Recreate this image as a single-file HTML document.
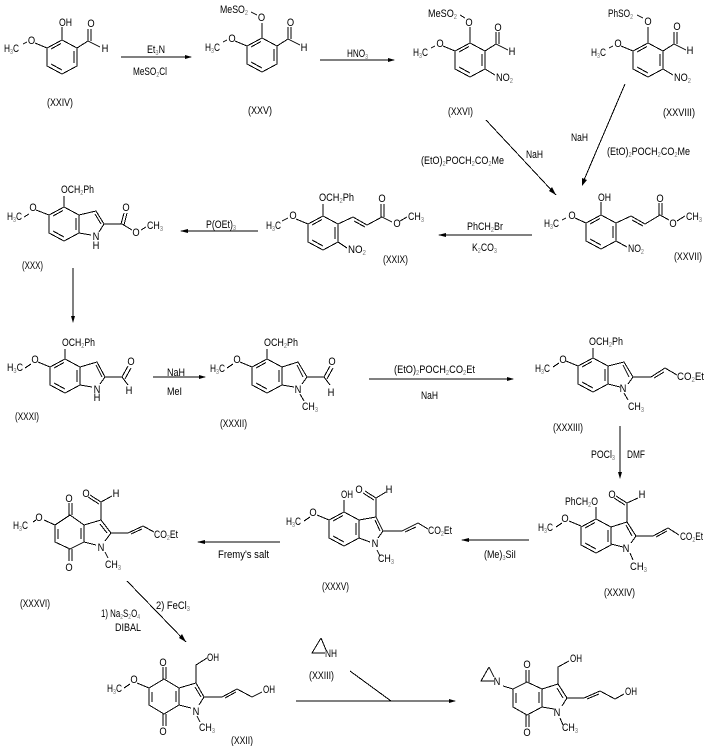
<!DOCTYPE html>
<html><head><meta charset="utf-8"><style>
html,body{margin:0;padding:0;background:#fff}
svg{display:block}
text{font-family:"Liberation Sans",sans-serif;font-size:11px;fill:#000}
.m{text-anchor:middle;transform-box:fill-box;transform-origin:center;transform:scaleX(.85)}
.s{font-size:7px;fill:#777}
.b{fill:none;stroke:#000;stroke-width:1;shape-rendering:crispEdges}
.a{fill:#000;stroke:none}
</style></head><body>
<svg width="710" height="746" viewBox="0 0 710 746" xmlns="http://www.w3.org/2000/svg">
<defs><path id="r" d="M0 0L15 8V26L0 34L-15 26V8ZM12 11V23M-11 24L0 30M-11 9L-1 3.5"/></defs>

<!-- XXIV -->
<g class="b"><use href="#r" x="62" y="40"/><path d="M62 40V27M35 43L47 48M23 44L27 42M77 48L88 41M88 41V29M91 41V29M88 41L100 47"/></g>
<text x="59" y="26" textLength="13" lengthAdjust="spacingAndGlyphs">OH</text><text x="31.500" y="44" class="m">O</text>
<text x="4" y="52" textLength="15" lengthAdjust="spacingAndGlyphs">H<tspan class="s" dy="2">3</tspan><tspan dy="-2">C</tspan></text>
<text x="91" y="27" class="m">O</text><text x="105" y="52" class="m">H</text>
<text x="47" y="106" textLength="26" lengthAdjust="spacingAndGlyphs">(XXIV)</text>

<!-- arrow 1 -->
<path class="b" d="M121 57H191"/><path class="a" d="M192 57L185 55V59Z"/>
<text x="147" y="53" textLength="18" lengthAdjust="spacingAndGlyphs">Et<tspan class="s" dy="2">3</tspan><tspan dy="-2">N</tspan></text>
<text x="133" y="75" textLength="34" lengthAdjust="spacingAndGlyphs">MeSO<tspan class="s" dy="2">2</tspan><tspan dy="-2">Cl</tspan></text>

<!-- XXV -->
<g class="b"><use href="#r" x="262" y="38"/><path d="M262 38V23M235 41L247 46M223 42L227 40M277 46L288 39M288 39V27M291 39V27M288 39L300 45M251 12L257 15"/></g>
<text x="220" y="13" textLength="28" lengthAdjust="spacingAndGlyphs">MeSO<tspan class="s" dy="2">2</tspan></text><text x="261.500" y="21" class="m">O</text>
<text x="232" y="42" class="m">O</text>
<text x="205" y="51" textLength="15" lengthAdjust="spacingAndGlyphs">H<tspan class="s" dy="2">3</tspan><tspan dy="-2">C</tspan></text>
<text x="290.500" y="26" class="m">O</text><text x="304" y="51" class="m">H</text>
<text x="248" y="114" textLength="24" lengthAdjust="spacingAndGlyphs">(XXV)</text>

<!-- arrow 2 -->
<path class="b" d="M320 60H394"/><path class="a" d="M395 60L388 58V62Z"/>
<text x="347" y="57" textLength="21" lengthAdjust="spacingAndGlyphs">HNO<tspan class="s" dy="2">3</tspan></text>

<!-- XXVI -->
<g class="b"><use href="#r" x="470" y="43"/><path d="M470 43V27M443 46L455 51M431 48L435 46M485 51L496 44M496 44V32M499 44V32M496 44L508 50M485 69L495 75M460 15L465 18"/></g>
<text x="428" y="17" textLength="29" lengthAdjust="spacingAndGlyphs">MeSO<tspan class="s" dy="2">2</tspan></text><text x="469" y="26" class="m">O</text>
<text x="440" y="47" class="m">O</text>
<text x="413" y="56" textLength="15" lengthAdjust="spacingAndGlyphs">H<tspan class="s" dy="2">3</tspan><tspan dy="-2">C</tspan></text>
<text x="498" y="31" class="m">O</text><text x="512" y="55" class="m">H</text>
<text x="496" y="81" textLength="17" lengthAdjust="spacingAndGlyphs">NO<tspan class="s" dy="2">2</tspan></text>
<text x="448" y="115" textLength="25" lengthAdjust="spacingAndGlyphs">(XXVI)</text>

<!-- XXVIII -->
<g class="b"><use href="#r" x="648" y="43"/><path d="M648 43V27M621 46L633 51M609 48L613 46M663 51L674 44M674 44V32M677 44V32M674 44L686 50M663 69L673 75M637 15L643 18"/></g>
<text x="608" y="17" textLength="25" lengthAdjust="spacingAndGlyphs">PhSO<tspan class="s" dy="2">2</tspan></text><text x="648" y="25" class="m">O</text>
<text x="618" y="47" class="m">O</text>
<text x="591" y="56" textLength="15" lengthAdjust="spacingAndGlyphs">H<tspan class="s" dy="2">3</tspan><tspan dy="-2">C</tspan></text>
<text x="677" y="30" class="m">O</text><text x="690" y="54" class="m">H</text>
<text x="674" y="81" textLength="17" lengthAdjust="spacingAndGlyphs">NO<tspan class="s" dy="2">2</tspan></text>
<text x="663" y="116" textLength="32" lengthAdjust="spacingAndGlyphs">(XXVIII)</text>

<!-- arrows to XXVII -->
<path class="b" d="M486 120L556 195"/><path class="a" d="M556 195L549 191L552 187Z"/>
<text x="526" y="158" textLength="17" lengthAdjust="spacingAndGlyphs">NaH</text>
<text x="421" y="164" textLength="83" lengthAdjust="spacingAndGlyphs">(EtO)<tspan class="s" dy="2">2</tspan><tspan dy="-2">POCH</tspan><tspan class="s" dy="2">2</tspan><tspan dy="-2">CO</tspan><tspan class="s" dy="2">2</tspan><tspan dy="-2">Me</tspan></text>
<path class="b" d="M625 84L584 180"/><path class="a" d="M582 186L582 178L587 180Z"/>
<text x="571" y="141" textLength="17" lengthAdjust="spacingAndGlyphs">NaH</text>
<text x="607" y="155" textLength="83" lengthAdjust="spacingAndGlyphs">(EtO)<tspan class="s" dy="2">2</tspan><tspan dy="-2">POCH</tspan><tspan class="s" dy="2">2</tspan><tspan dy="-2">CO</tspan><tspan class="s" dy="2">2</tspan><tspan dy="-2">Me</tspan></text>

<!-- XXVII -->
<g class="b"><use href="#r" x="601" y="215"/><path d="M601 215V202M575 218L586 223M562 220L566 218M616 223L631 216L645 224L660 215M632 220L643 226M659 215V203M662 215V203M660 215L669 220M677 221L685 216M616 241L627 247"/></g>
<text x="598" y="201" textLength="13" lengthAdjust="spacingAndGlyphs">OH</text><text x="572" y="219" class="m">O</text>
<text x="544" y="227" textLength="15" lengthAdjust="spacingAndGlyphs">H<tspan class="s" dy="2">3</tspan><tspan dy="-2">C</tspan></text>
<text x="660" y="202" class="m">O</text><text x="673" y="227" class="m">O</text>
<text x="686" y="220" textLength="16" lengthAdjust="spacingAndGlyphs">CH<tspan class="s" dy="2">3</tspan></text>
<text x="628" y="252" textLength="16" lengthAdjust="spacingAndGlyphs">NO<tspan class="s" dy="2">2</tspan></text>
<text x="674" y="260" textLength="28" lengthAdjust="spacingAndGlyphs">(XXVII)</text>

<!-- arrow PhCH2Br -->
<path class="b" d="M532 235H439"/><path class="a" d="M438 235L446 233V237Z"/>
<text x="467" y="230" textLength="36" lengthAdjust="spacingAndGlyphs">PhCH<tspan class="s" dy="2">2</tspan><tspan dy="-2">Br</tspan></text>
<text x="472" y="251" textLength="25" lengthAdjust="spacingAndGlyphs">K<tspan class="s" dy="2">2</tspan><tspan dy="-2">CO</tspan><tspan class="s" dy="2">3</tspan></text>

<!-- XXIX -->
<g class="b"><use href="#r" x="323" y="216"/><path d="M323 216V204M296 219L308 224M282 221L288 218M338 224L353 217L367 225L382 217M354 221L365 227M381 217V204M384 217V204M382 217L392 222M400 221L407 217M338 242L347 248"/></g>
<text x="319" y="201" textLength="35" lengthAdjust="spacingAndGlyphs">OCH<tspan class="s" dy="2">2</tspan><tspan dy="-2">Ph</tspan></text>
<text x="293" y="219" class="m">O</text>
<text x="266" y="229" textLength="15" lengthAdjust="spacingAndGlyphs">H<tspan class="s" dy="2">3</tspan><tspan dy="-2">C</tspan></text>
<text x="382" y="202" class="m">O</text><text x="397" y="227" class="m">O</text>
<text x="408" y="220" textLength="16" lengthAdjust="spacingAndGlyphs">CH<tspan class="s" dy="2">3</tspan></text>
<text x="348" y="253" textLength="18" lengthAdjust="spacingAndGlyphs">NO<tspan class="s" dy="2">2</tspan></text>
<text x="383" y="263" textLength="25" lengthAdjust="spacingAndGlyphs">(XXIX)</text>

<!-- arrow P(OEt)3 -->
<path class="b" d="M258 231H181"/><path class="a" d="M180 231L188 229V233Z"/>
<text x="206" y="228" textLength="30" lengthAdjust="spacingAndGlyphs">P(OEt)<tspan class="s" dy="2">3</tspan></text>

<!-- XXX -->
<g class="b"><use href="#r" x="64" y="207"/><path d="M64 207V196M36 210L49 215M24 217L29 214M79 215L96 211L104 224L99 232M91 235L79 233M95 214L101 224M104 224H122M121 224L124 213M124 225L127 213M122 224L132 230M141 230L146 227"/></g>
<text x="61" y="193" textLength="33" lengthAdjust="spacingAndGlyphs">OCH<tspan class="s" dy="2">2</tspan><tspan dy="-2">Ph</tspan></text>
<text x="33" y="211" class="m">O</text>
<text x="7" y="220" textLength="15" lengthAdjust="spacingAndGlyphs">H<tspan class="s" dy="2">3</tspan><tspan dy="-2">C</tspan></text>
<text x="96" y="240" class="m">N</text><text x="96" y="249" class="m">H</text>
<text x="126" y="211" class="m">O</text><text x="136" y="236" class="m">O</text>
<text x="147" y="229" textLength="16" lengthAdjust="spacingAndGlyphs">CH<tspan class="s" dy="2">3</tspan></text>
<text x="22" y="269" textLength="21" lengthAdjust="spacingAndGlyphs">(XXX)</text>

<path class="b" d="M73 268V321"/><path class="a" d="M73 323L71 316H75Z"/>

<!-- XXXI -->
<g class="b"><use href="#r" x="65" y="359"/><path d="M65 359V349M38 362L50 367M25 368L31 364M80 367L97 362L105 377L100 384M92 387L80 385M96 365L102 377M105 377H122M122 377L128 366M125 379L131 368M122 377L128 385"/></g>
<text x="62" y="346" textLength="33" lengthAdjust="spacingAndGlyphs">OCH<tspan class="s" dy="2">2</tspan><tspan dy="-2">Ph</tspan></text>
<text x="35" y="363" class="m">O</text>
<text x="7" y="371" textLength="16" lengthAdjust="spacingAndGlyphs">H<tspan class="s" dy="2">3</tspan><tspan dy="-2">C</tspan></text>
<text x="97" y="393" class="m">N</text><text x="97" y="401" class="m">H</text>
<text x="131" y="365" class="m">O</text><text x="129" y="394" class="m">H</text>
<text x="15" y="420" textLength="24" lengthAdjust="spacingAndGlyphs">(XXXI)</text>

<!-- arrow NaH/MeI -->
<path class="b" d="M153 377H205"/><path class="a" d="M206 377L199 375V379Z"/>
<text x="167" y="376" textLength="18" lengthAdjust="spacingAndGlyphs">NaH</text>
<text x="167" y="395" textLength="15" lengthAdjust="spacingAndGlyphs">MeI</text>

<!-- XXXII -->
<g class="b"><use href="#r" x="267" y="359"/><path d="M267 359V349M240 362L252 367M227 368L233 364M282 367L298 362L307 377L302 384M294 387L282 385M297 365L303 377M307 377H324M324 377L330 366M327 379L333 368M324 377L330 385M300 394L304 401"/></g>
<text x="264" y="346" textLength="34" lengthAdjust="spacingAndGlyphs">OCH<tspan class="s" dy="2">2</tspan><tspan dy="-2">Ph</tspan></text>
<text x="237" y="363" class="m">O</text>
<text x="210" y="372" textLength="15" lengthAdjust="spacingAndGlyphs">H<tspan class="s" dy="2">3</tspan><tspan dy="-2">C</tspan></text>
<text x="298" y="393" class="m">N</text>
<text x="302" y="410" textLength="16" lengthAdjust="spacingAndGlyphs">CH<tspan class="s" dy="2">3</tspan></text>
<text x="332" y="365" class="m">O</text><text x="331" y="396" class="m">H</text>
<text x="220" y="427" textLength="27" lengthAdjust="spacingAndGlyphs">(XXXII)</text>

<!-- arrow to XXXIII -->
<path class="b" d="M369 379H513"/><path class="a" d="M514 379L507 377V381Z"/>
<text x="394" y="373" textLength="81" lengthAdjust="spacingAndGlyphs">(EtO)<tspan class="s" dy="2">2</tspan><tspan dy="-2">POCH</tspan><tspan class="s" dy="2">2</tspan><tspan dy="-2">CO</tspan><tspan class="s" dy="2">2</tspan><tspan dy="-2">Et</tspan></text>
<text x="421" y="399" textLength="17" lengthAdjust="spacingAndGlyphs">NaH</text>

<!-- XXXIII -->
<g class="b"><use href="#r" x="593" y="358"/><path d="M593 358V348M566 361L578 366M553 367L559 363M608 366L624 362L633 377L628 384M620 387L608 384M623 365L629 377M633 377H651L665 368L677 375M654 378L664 372M624 393L628 400"/></g>
<text x="589" y="345" textLength="34" lengthAdjust="spacingAndGlyphs">OCH<tspan class="s" dy="2">2</tspan><tspan dy="-2">Ph</tspan></text>
<text x="563" y="363" class="m">O</text>
<text x="535" y="372" textLength="15" lengthAdjust="spacingAndGlyphs">H<tspan class="s" dy="2">3</tspan><tspan dy="-2">C</tspan></text>
<text x="623" y="392" class="m">N</text>
<text x="628" y="410" textLength="16" lengthAdjust="spacingAndGlyphs">CH<tspan class="s" dy="2">3</tspan></text>
<text x="677" y="380" textLength="27" lengthAdjust="spacingAndGlyphs">CO<tspan class="s" dy="2">2</tspan><tspan dy="-2">Et</tspan></text>
<text x="553" y="431" textLength="30" lengthAdjust="spacingAndGlyphs">(XXXIII)</text>

<!-- arrow POCl3 -->
<path class="b" d="M620 426V477"/><path class="a" d="M620 479L618 472H622Z"/>
<text x="591" y="458" textLength="24" lengthAdjust="spacingAndGlyphs">POCl<tspan class="s" dy="2">3</tspan></text>
<text x="627" y="458" textLength="18" lengthAdjust="spacingAndGlyphs">DMF</text>

<!-- XXXIV -->
<g class="b"><use href="#r" x="596" y="519"/><path d="M596 519V507M569 521L581 526M556 527L562 523M611 527L627 522L636 536L631 543M623 547L611 544M626 525L632 536M627 522V503M627 503L616 496M625 505L614 498M627 503L638 498M636 536H653L668 528L679 535M656 537L667 531M630 553L633 560"/></g>
<text x="565" y="505" textLength="33" lengthAdjust="spacingAndGlyphs">PhCH<tspan class="s" dy="2">2</tspan><tspan dy="-2">O</tspan></text>
<text x="565" y="522" class="m">O</text>
<text x="538" y="531" textLength="15" lengthAdjust="spacingAndGlyphs">H<tspan class="s" dy="2">3</tspan><tspan dy="-2">C</tspan></text>
<text x="612" y="498" class="m">O</text><text x="642" y="498" class="m">H</text>
<text x="626" y="552" class="m">N</text>
<text x="630" y="570" textLength="17" lengthAdjust="spacingAndGlyphs">CH<tspan class="s" dy="2">3</tspan></text>
<text x="680" y="540" textLength="23" lengthAdjust="spacingAndGlyphs">CO<tspan class="s" dy="2">2</tspan><tspan dy="-2">Et</tspan></text>
<text x="604" y="596" textLength="31" lengthAdjust="spacingAndGlyphs">(XXXIV)</text>

<!-- arrow (Me)3SiI -->
<path class="b" d="M529 540H462"/><path class="a" d="M461 540L469 538V542Z"/>
<text x="484" y="558" textLength="32" lengthAdjust="spacingAndGlyphs">(Me)<tspan class="s" dy="2">3</tspan><tspan dy="-2">SiI</tspan></text>

<!-- XXXV -->
<g class="b"><use href="#r" x="344" y="512"/><path d="M344 512V500M317 515L329 520M304 521L310 517M359 520L376 517L383 531L378 538M370 542L359 538M375 520L380 531M376 517V498M376 498L365 491M374 500L363 493M376 498L386 492M383 531H402L418 523L428 529M405 532L416 527M377 550L380 556"/></g>
<text x="341" y="498" textLength="12" lengthAdjust="spacingAndGlyphs">OH</text>
<text x="313" y="516" class="m">O</text>
<text x="286" y="525" textLength="15" lengthAdjust="spacingAndGlyphs">H<tspan class="s" dy="2">3</tspan><tspan dy="-2">C</tspan></text>
<text x="359" y="493" class="m">O</text><text x="389" y="493" class="m">H</text>
<text x="375" y="547" class="m">N</text>
<text x="378" y="562" textLength="16" lengthAdjust="spacingAndGlyphs">CH<tspan class="s" dy="2">3</tspan></text>
<text x="428" y="534" textLength="24" lengthAdjust="spacingAndGlyphs">CO<tspan class="s" dy="2">2</tspan><tspan dy="-2">Et</tspan></text>
<text x="322" y="590" textLength="27" lengthAdjust="spacingAndGlyphs">(XXXV)</text>

<!-- arrow Fremy -->
<path class="b" d="M280 542H198"/><path class="a" d="M197 542L205 540V544Z"/>
<text x="218" y="558" textLength="51" lengthAdjust="spacingAndGlyphs">Fremy's salt</text>

<!-- XXXVI -->
<g class="b"><path d="M70 515L84 525V542L70 549L55 542V525ZM58 529V539M81 528V539M69 515V503M72 515V503M69 549V561M72 549V561"/><path d="M84 525L101 520L111 533L105 541M96 545L84 542M100 524L107 533M101 520V502M101 502L90 495M99 504L88 497M101 502L112 496M111 533H128L143 526L154 532M131 534L142 529M44 520L55 525M33 522L36 520M105 552L108 558"/></g>
<text x="69" y="502" class="m">O</text><text x="69" y="571" class="m">O</text>
<text x="39" y="521" class="m">O</text>
<text x="13" y="529" textLength="15" lengthAdjust="spacingAndGlyphs">H<tspan class="s" dy="2">3</tspan><tspan dy="-2">C</tspan></text>
<text x="86" y="497" class="m">O</text><text x="116" y="497" class="m">H</text>
<text x="101" y="551" class="m">N</text>
<text x="105" y="568" textLength="16" lengthAdjust="spacingAndGlyphs">CH<tspan class="s" dy="2">3</tspan></text>
<text x="154" y="538" textLength="24" lengthAdjust="spacingAndGlyphs">CO<tspan class="s" dy="2">2</tspan><tspan dy="-2">Et</tspan></text>
<text x="20" y="607" textLength="30" lengthAdjust="spacingAndGlyphs">(XXXVI)</text>

<!-- arrow to XXII -->
<path class="b" d="M127 581L186 642"/><path class="a" d="M186 642L179 638L182 634Z"/>
<text x="156" y="609" textLength="34" lengthAdjust="spacingAndGlyphs">2) FeCl<tspan class="s" dy="2">3</tspan></text>
<text x="101" y="617" textLength="39" lengthAdjust="spacingAndGlyphs">1) Na<tspan class="s" dy="2">2</tspan><tspan dy="-2">S</tspan><tspan class="s" dy="2">2</tspan><tspan dy="-2">O</tspan><tspan class="s" dy="2">4</tspan></text>
<text x="115" y="631" textLength="26" lengthAdjust="spacingAndGlyphs">DIBAL</text>

<!-- XXII -->
<g class="b"><path d="M164 679L179 688V705L164 714L149 705V688ZM152 692V702M176 691V702M163 679V667M166 679V667M163 714V726M166 714V726"/><path d="M179 688L196 683L204 697L199 705M191 708L179 705M195 687L201 697M196 683V665L207 658M204 697H222L237 689L252 697L262 692M225 698L236 692M137 683L149 688M124 688L130 684M197 716L200 722"/></g>
<text x="163" y="666" class="m">O</text><text x="163" y="735" class="m">O</text>
<text x="134" y="683" class="m">O</text>
<text x="107" y="692" textLength="15" lengthAdjust="spacingAndGlyphs">H<tspan class="s" dy="2">3</tspan><tspan dy="-2">C</tspan></text>
<text x="207" y="661" textLength="12" lengthAdjust="spacingAndGlyphs">OH</text>
<text x="263" y="693" textLength="12" lengthAdjust="spacingAndGlyphs">OH</text>
<text x="196" y="715" class="m">N</text>
<text x="199" y="731" textLength="16" lengthAdjust="spacingAndGlyphs">CH<tspan class="s" dy="2">3</tspan></text>
<text x="231" y="744" textLength="22" lengthAdjust="spacingAndGlyphs">(XXII)</text>

<!-- aziridine reagent -->
<path class="b" d="M321 638L312 653H325M321 638L326 650"/>
<text x="325" y="657" textLength="12" lengthAdjust="spacingAndGlyphs">NH</text>
<text x="309" y="679" textLength="25" lengthAdjust="spacingAndGlyphs">(XXIII)</text>

<!-- final arrow -->
<path class="b" d="M296 701H455M350 671L391 701"/><path class="a" d="M456 701L449 699V703Z"/>

<!-- product -->
<g class="b"><path d="M527 682L542 689V707L527 715L513 707V689ZM516 693V703M539 692V703M526 682V670M529 682V670M526 715V727M529 715V727"/><path d="M542 689L558 684L567 698L562 706M554 709L542 707M557 688L563 698M558 684V667L569 661M567 698H584L600 691L615 699L624 694M587 699L599 694M503 686L513 689M560 718L563 725M489 667L481 681H494M489 667L494 677"/></g>
<text x="527" y="668" class="m">O</text><text x="527" y="736" class="m">O</text>
<text x="497" y="685" class="m">N</text>
<text x="570" y="662" textLength="12" lengthAdjust="spacingAndGlyphs">OH</text>
<text x="625" y="695" textLength="12" lengthAdjust="spacingAndGlyphs">OH</text>
<text x="557" y="716" class="m">N</text>
<text x="562" y="731" textLength="16" lengthAdjust="spacingAndGlyphs">CH<tspan class="s" dy="2">3</tspan></text>
</svg>
</body></html>
